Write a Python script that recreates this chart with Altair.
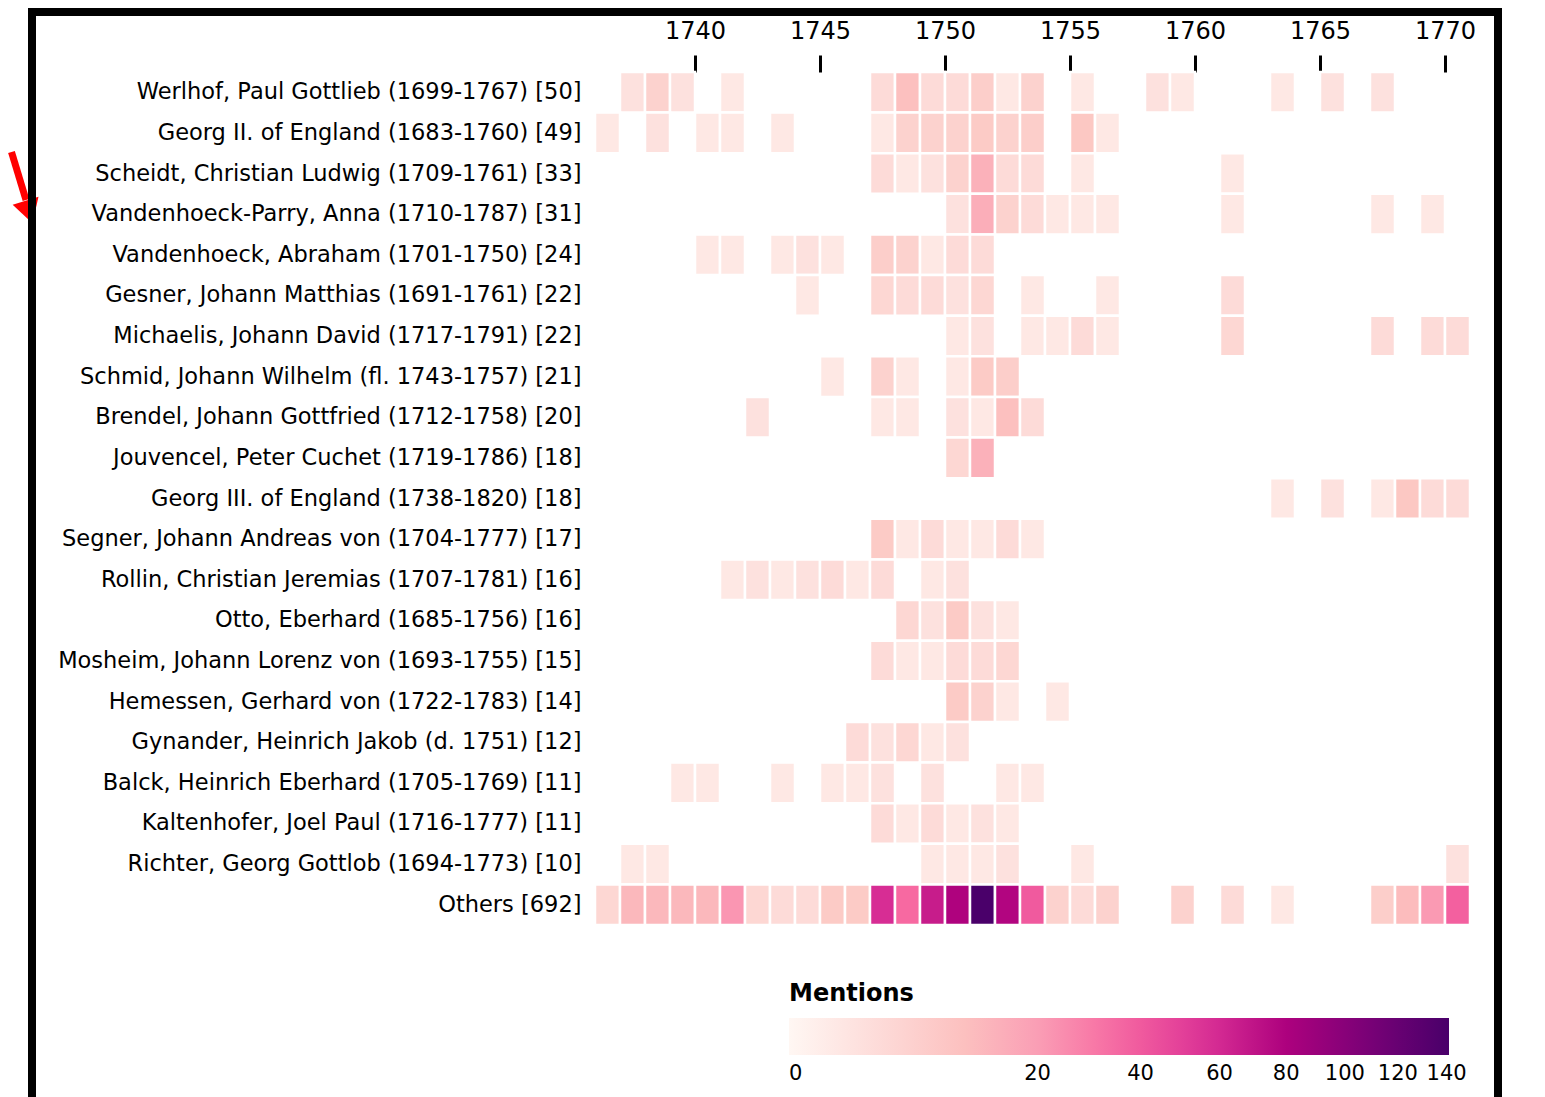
import altair as alt
import pandas as pd

# Years shown (one column per year, 1736 ... 1770)
years = list(range(1736, 1771))

names = [
    "Werlhof, Paul Gottlieb (1699-1767) [50]",
    "Georg II. of England (1683-1760) [49]",
    "Scheidt, Christian Ludwig (1709-1761) [33]",
    "Vandenhoeck-Parry, Anna (1710-1787) [31]",
    "Vandenhoeck, Abraham (1701-1750) [24]",
    "Gesner, Johann Matthias (1691-1761) [22]",
    "Michaelis, Johann David (1717-1791) [22]",
    "Schmid, Johann Wilhelm (fl. 1743-1757) [21]",
    "Brendel, Johann Gottfried (1712-1758) [20]",
    "Jouvencel, Peter Cuchet (1719-1786) [18]",
    "Georg III. of England (1738-1820) [18]",
    "Segner, Johann Andreas von (1704-1777) [17]",
    "Rollin, Christian Jeremias (1707-1781) [16]",
    "Otto, Eberhard (1685-1756) [16]",
    "Mosheim, Johann Lorenz von (1693-1755) [15]",
    "Hemessen, Gerhard von (1722-1783) [14]",
    "Gynander, Heinrich Jakob (d. 1751) [12]",
    "Balck, Heinrich Eberhard (1705-1769) [11]",
    "Kaltenhofer, Joel Paul (1716-1777) [11]",
    "Richter, Georg Gottlob (1694-1773) [10]",
    "Others [692]",
]

# mentions per year, 1736 .. 1770 (35 values each)
#                 36 37 38 39 40 41 42 43 44 45 46 47 48 49 50 51  52 53 54 55 56 57 58 59 60 61 62 63 64 65 66 67 68 69 70
werlhof        = [0, 2, 5, 2, 0, 1, 0, 0, 0, 0, 0, 3, 10, 3, 3, 6, 1, 5, 0, 1, 0, 0, 2, 1, 0, 0, 0, 1, 0, 2, 0, 2, 0, 0, 0]
georg2         = [1, 0, 2, 0, 1, 1, 0, 1, 0, 0, 0, 1, 5, 5, 5, 7, 5, 6, 0, 8, 1, 0, 0, 0, 0, 0, 0, 0, 0, 0, 0, 0, 0, 0, 0]
scheidt        = [0, 0, 0, 0, 0, 0, 0, 0, 0, 0, 0, 3, 1, 2, 5, 14, 3, 3, 0, 1, 0, 0, 0, 0, 0, 1, 0, 0, 0, 0, 0, 0, 0, 0, 0]
vh_parry       = [0, 0, 0, 0, 0, 0, 0, 0, 0, 0, 0, 0, 0, 0, 2, 15, 5, 3, 1, 1, 1, 0, 0, 0, 0, 1, 0, 0, 0, 0, 0, 1, 0, 1, 0]
vh_abraham     = [0, 0, 0, 0, 1, 1, 0, 1, 2, 1, 0, 6, 5, 1, 3, 3, 0, 0, 0, 0, 0, 0, 0, 0, 0, 0, 0, 0, 0, 0, 0, 0, 0, 0, 0]
gesner         = [0, 0, 0, 0, 0, 0, 0, 0, 1, 0, 0, 4, 3, 3, 2, 4, 0, 1, 0, 0, 1, 0, 0, 0, 0, 3, 0, 0, 0, 0, 0, 0, 0, 0, 0]
michaelis      = [0, 0, 0, 0, 0, 0, 0, 0, 0, 0, 0, 0, 0, 0, 1, 2, 0, 1, 1, 3, 1, 0, 0, 0, 0, 4, 0, 0, 0, 0, 0, 3, 0, 3, 3]
schmid         = [0, 0, 0, 0, 0, 0, 0, 0, 0, 1, 0, 5, 1, 0, 1, 7, 6, 0, 0, 0, 0, 0, 0, 0, 0, 0, 0, 0, 0, 0, 0, 0, 0, 0, 0]
brendel        = [0, 0, 0, 0, 0, 0, 2, 0, 0, 0, 0, 1, 1, 0, 2, 1, 10, 3, 0, 0, 0, 0, 0, 0, 0, 0, 0, 0, 0, 0, 0, 0, 0, 0, 0]
jouvencel      = [0, 0, 0, 0, 0, 0, 0, 0, 0, 0, 0, 0, 0, 0, 4, 14, 0, 0, 0, 0, 0, 0, 0, 0, 0, 0, 0, 0, 0, 0, 0, 0, 0, 0, 0]
georg3         = [0, 0, 0, 0, 0, 0, 0, 0, 0, 0, 0, 0, 0, 0, 0, 0, 0, 0, 0, 0, 0, 0, 0, 0, 0, 0, 0, 1, 0, 2, 0, 1, 8, 3, 3]
segner         = [0, 0, 0, 0, 0, 0, 0, 0, 0, 0, 0, 7, 1, 3, 1, 1, 3, 1, 0, 0, 0, 0, 0, 0, 0, 0, 0, 0, 0, 0, 0, 0, 0, 0, 0]
rollin         = [0, 0, 0, 0, 0, 1, 2, 1, 2, 3, 1, 3, 0, 1, 2, 0, 0, 0, 0, 0, 0, 0, 0, 0, 0, 0, 0, 0, 0, 0, 0, 0, 0, 0, 0]
otto           = [0, 0, 0, 0, 0, 0, 0, 0, 0, 0, 0, 0, 4, 2, 7, 2, 1, 0, 0, 0, 0, 0, 0, 0, 0, 0, 0, 0, 0, 0, 0, 0, 0, 0, 0]
mosheim        = [0, 0, 0, 0, 0, 0, 0, 0, 0, 0, 0, 3, 1, 1, 3, 3, 4, 0, 0, 0, 0, 0, 0, 0, 0, 0, 0, 0, 0, 0, 0, 0, 0, 0, 0]
hemessen       = [0, 0, 0, 0, 0, 0, 0, 0, 0, 0, 0, 0, 0, 0, 7, 5, 1, 0, 1, 0, 0, 0, 0, 0, 0, 0, 0, 0, 0, 0, 0, 0, 0, 0, 0]
gynander       = [0, 0, 0, 0, 0, 0, 0, 0, 0, 0, 3, 2, 4, 1, 2, 0, 0, 0, 0, 0, 0, 0, 0, 0, 0, 0, 0, 0, 0, 0, 0, 0, 0, 0, 0]
balck          = [0, 0, 0, 1, 1, 0, 0, 1, 0, 1, 1, 2, 0, 2, 0, 0, 1, 1, 0, 0, 0, 0, 0, 0, 0, 0, 0, 0, 0, 0, 0, 0, 0, 0, 0]
kaltenhofer    = [0, 0, 0, 0, 0, 0, 0, 0, 0, 0, 0, 3, 1, 3, 1, 2, 1, 0, 0, 0, 0, 0, 0, 0, 0, 0, 0, 0, 0, 0, 0, 0, 0, 0, 0]
richter        = [0, 1, 1, 0, 0, 0, 0, 0, 0, 0, 0, 0, 0, 1, 1, 1, 2, 0, 0, 1, 0, 0, 0, 0, 0, 0, 0, 0, 0, 0, 0, 0, 0, 0, 2]
others         = [4, 12, 12, 12, 12, 22, 4, 3, 3, 7, 7, 58, 35, 66, 79, 140, 77, 40, 5, 3, 5, 0, 0, 5, 0, 3, 0, 1, 0, 0, 0, 6, 11, 21, 38]

series = [werlhof, georg2, scheidt, vh_parry, vh_abraham, gesner, michaelis,
          schmid, brendel, jouvencel, georg3, segner, rollin, otto, mosheim,
          hemessen, gynander, balck, kaltenhofer, richter, others]

legend_values = [0, 20, 40, 60, 80, 100, 120, 140]
tick_years = [1740, 1745, 1750, 1755, 1760, 1765, 1770]

# RdPu colour ramp, stops evenly spaced on the sqrt scale 0..141
rdpu = ["#fff7f3", "#fde0dd", "#fcc5c0", "#fa9fb5", "#f768a1",
        "#dd3497", "#ae017e", "#7a0177", "#49006a"]
cmax = 141
n = len(rdpu) - 1
color_domain = [cmax * (i / n) ** 2 for i in range(n + 1)]

records = []
for name, vals in zip(names, series):
    for yr, v in zip(years, vals):
        if v > 0:
            records.append({"name": name, "year": yr, "year_end": yr + 1, "mentions": v})
df = pd.DataFrame(records)

FONT = "DejaVu Sans"

heat = alt.Chart(df).mark_rect(stroke="white", strokeWidth=2.5).encode(
    x=alt.X(
        "year:Q",
        scale=alt.Scale(domain=[years[0], years[-1] + 1], nice=False, zero=False),
        axis=alt.Axis(
            orient="top", values=tick_years, format="d", title=None,
            tickSize=17, tickWidth=3, tickColor="black", domain=False, grid=False,
            labelFont=FONT, labelFontSize=24, labelColor="black", labelPadding=12,
        ),
    ),
    x2="year_end:Q",
    y=alt.Y(
        "name:N", sort=names,
        scale=alt.Scale(paddingInner=0, paddingOuter=0),
        axis=alt.Axis(
            title=None, ticks=False, domain=False, grid=False,
            labelFont=FONT, labelFontSize=22.5, labelColor="black",
            labelPadding=14, labelLimit=0,
        ),
    ),
    color=alt.Color(
        "mentions:Q",
        scale=alt.Scale(type="sqrt", domain=color_domain, range=rdpu, interpolate="rgb"),
        legend=alt.Legend(
            title="Mentions", orient="none", legendX=194, legendY=910,
            direction="horizontal", values=legend_values,
            titleFont=FONT, titleFontSize=24, titleFontWeight="bold", titleColor="black",
            titlePadding=12, gradientLength=660, gradientThickness=37,
            labelFont=FONT, labelFontSize=21, labelColor="black", labelOffset=8,
            labelOverlap=False,
        ),
    ),
)

one = pd.DataFrame({"k": [0]})

# red annotation arrow (decoration)
arrow_shaft = alt.Chart(one).mark_rule(color="#ff0000", strokeWidth=7).encode(
    x=alt.value(-583.5), y=alt.value(80), x2=alt.value(-569), y2=alt.value(128)
)
arrow_head = alt.Chart(one).mark_point(
    shape="triangle-down", filled=True, color="#ff0000", size=730, opacity=1, angle=343
).encode(x=alt.value(-566), y=alt.value(140))

# black frame (decoration)
frame_left = alt.Chart(one).mark_rule(color="black", strokeWidth=8).encode(
    x=alt.value(-563), y=alt.value(-60), y2=alt.value(1030)
)
frame_right = alt.Chart(one).mark_rule(color="black", strokeWidth=8).encode(
    x=alt.value(903), y=alt.value(-60), y2=alt.value(1030)
)
frame_top = alt.Chart(one).mark_rule(color="black", strokeWidth=8).encode(
    x=alt.value(-567), x2=alt.value(907), y=alt.value(-60)
)

chart = alt.layer(
    heat, arrow_shaft, arrow_head, frame_left, frame_right, frame_top
).properties(
    width=875, height=853, padding=0, background="white"
).configure_view(strokeWidth=0)

chart.save("out.html", embed_options={"renderer": "svg", "actions": False})
